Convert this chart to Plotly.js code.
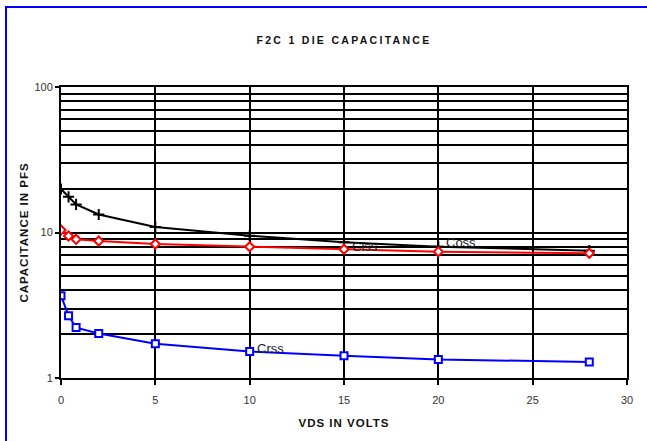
<!DOCTYPE html>
<html>
<head>
<meta charset="utf-8">
<script src="https://cdn.plot.ly/plotly-3.0.1.min.js"></script>
<style>
  html, body { margin: 0; padding: 0; background: #fff; }
  #chart { width: 647px; height: 441px; }
  #frame { position: absolute; left: 5px; top: 6px; width: 700px; height: 500px;
           border-left: 2.5px solid #0000ff; border-top: 2.5px solid #0000ff;
           pointer-events: none; }
</style>
</head>
<body>
<div id="chart"></div>
<div id="frame"></div>
<script>
// Data
const vds = [0, 0.4, 0.8, 2, 5, 10, 15, 20, 28];
const cBlack = [19.9, 17.6, 15.6, 13.3, 10.9, 9.5, 8.57, 7.98, 7.5];
const cRed = [10.4, 9.46, 8.98, 8.74, 8.33, 7.98, 7.67, 7.38, 7.2];
const cBlue = [3.68, 2.68, 2.22, 2.02, 1.72, 1.52, 1.42, 1.34, 1.29];

const xTicks = [0, 5, 10, 15, 20, 25, 30];
const yMajor = [1, 10, 100];
const yMajorText = ['1', '10', '100'];
const yMinor = [2, 3, 4, 5, 6, 7, 8, 9, 20, 30, 40, 50, 60, 70, 80, 90];

const labels = [
  {text: 'Ciss', x: 15.3, y: 8.0},
  {text: 'Coss', x: 20.3, y: 8.47},
  {text: 'Crss', x: 10.3, y: 1.6}
];

const traces = [
  {x: vds, y: cBlack, mode: 'lines+markers', type: 'scatter',
   line: {color: '#000000', width: 2},
   marker: {symbol: 'cross-thin-open', size: 8, color: '#000000', line: {color: '#000000', width: 2}}},
  {x: vds, y: cRed, mode: 'lines+markers', type: 'scatter',
   line: {color: '#ff0000', width: 2},
   marker: {symbol: 'diamond', size: 7, color: '#ffffff', line: {color: '#ff0000', width: 2}}},
  {x: vds, y: cBlue, mode: 'lines+markers', type: 'scatter',
   line: {color: '#0000ff', width: 2},
   marker: {symbol: 'square', size: 7, color: '#ffffff', line: {color: '#0000ff', width: 2}}}
];

const layout = {
  width: 647, height: 441,
  margin: {l: 61, r: 20, t: 87, b: 63},
  paper_bgcolor: '#ffffff', plot_bgcolor: '#ffffff',
  showlegend: false,
  font: {family: 'Liberation Sans, Arial, sans-serif', color: '#333333', size: 11},
  title: {text: 'F2C 1 DIE CAPACITANCE', x: 0.5, xref: 'paper', y: 0.909, yanchor: 'middle',
          font: {family: 'Liberation Sans, Arial, sans-serif', size: 10.5, color: '#111111', weight: 'bold'}},
  xaxis: {
    range: [0, 30], tickvals: xTicks, ticktext: xTicks.map(String),
    showgrid: true, gridcolor: '#000000', gridwidth: 2,
    showline: true, linecolor: '#000000', linewidth: 2, mirror: true,
    ticks: 'outside', ticklen: 5, tickwidth: 2, tickcolor: '#000000',
    ticklabelstandoff: 6,
    zeroline: false,
    tickfont: {size: 11, color: '#333333'},
    title: {text: 'VDS IN VOLTS', standoff: 14,
            font: {size: 11.5, color: '#111111', weight: 'bold'}}
  },
  yaxis: {
    type: 'log', range: [0, 2],
    tickvals: yMajor, ticktext: yMajorText,
    showgrid: true, gridcolor: '#000000', gridwidth: 2,
    showline: true, linecolor: '#000000', linewidth: 2, mirror: true,
    ticks: 'outside', ticklen: 4, tickwidth: 2, tickcolor: '#000000',
    zeroline: false,
    tickfont: {size: 11, color: '#333333'},
    minor: {tickvals: yMinor, showgrid: true, gridcolor: '#000000', gridwidth: 2, ticks: ''},
    title: {text: 'CAPACITANCE IN PFS', standoff: 3,
            font: {size: 11.5, color: '#111111', weight: 'bold'}}
  },
  annotations: labels.map(l => ({
    text: l.text, x: l.x, y: Math.log10(l.y), xref: 'x', yref: 'y',
    xanchor: 'left', yanchor: 'middle', showarrow: false,
    font: {size: 13, color: '#222222'}
  }))
};

Plotly.newPlot('chart', traces, layout, {displayModeBar: false, staticPlot: true}).then(() => {
  document.querySelectorAll('.gtitle').forEach(e => e.style.letterSpacing = '2.3px');
  document.querySelectorAll('.xtitle, .ytitle').forEach(e => e.style.letterSpacing = '1px');
});
</script>
</body>
</html>
